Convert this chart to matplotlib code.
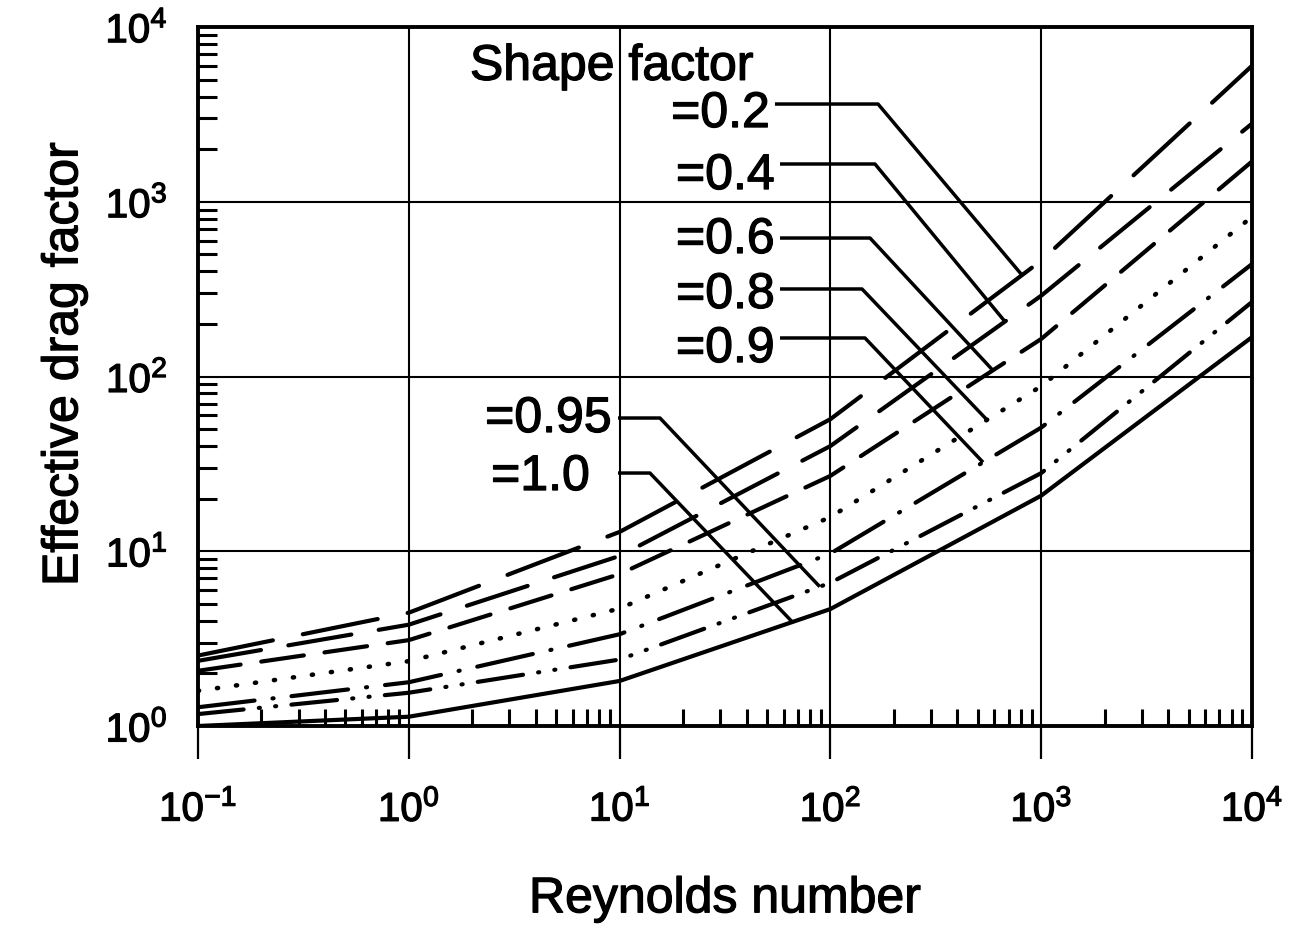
import numpy as np
import matplotlib
matplotlib.use("Agg")
import matplotlib.pyplot as plt
import matplotlib.patheffects as pe
from matplotlib.ticker import LogLocator, NullFormatter

# ---------------- data ----------------
reynolds = [0.1, 1, 10, 100, 1000, 10000]
shape_labels = ["=0.2", "=0.4", "=0.6", "=0.8", "=0.9", "=0.95", "=1.0"]
drag_02 = [2.53, 4.45, 12.9, 57, 460, 6000]
drag_04 = [2.36, 3.80, 9.4, 40, 290, 2800]
drag_06 = [2.07, 3.10, 7.4, 27, 164, 1700]
drag_08 = [1.59, 2.35, 4.7, 15.7, 88, 820]
drag_09 = [1.28, 1.78, 3.35, 9.7, 51, 440]
drag_095 = [1.17, 1.55, 2.40, 6.6, 28, 267]
drag_10 = [1.00, 1.13, 1.81, 4.67, 20.8, 168]
curves = [drag_02, drag_04, drag_06, drag_08, drag_09, drag_095, drag_10]
# Reynolds number where each leader line touches its curve
leader_target_re = [811, 673, 590, 553, 530, 89, 66]

# ---------------- style / layout ----------------
plt.rcParams["font.family"] = ["Liberation Sans", "DejaVu Sans"]
plt.rcParams["mathtext.default"] = "regular"
plt.rcParams["lines.scale_dashes"] = False

heavy = [pe.withStroke(linewidth=0.9, foreground="black")]

line_styles = [
    (0, (55, 22)),
    (0, (46, 20)),
    (0, (31, 15)),
    (0, (0.8, 13.0)),
    (0, (41, 13, 0.8, 13)),
    (0, (33, 11, 0.8, 11, 0.8, 11)),
    "-",
]
line_widths = [3.0, 3.0, 3.0, 3.3, 3.0, 3.0, 3.0]

# label layout in axes fraction: (text right x, text y, line start x, line y, knee x)
label_layout = [
    (0.5427, 0.8755, 0.5474, 0.8898, 0.6452),
    (0.5474, 0.7868, 0.5522, 0.8040, 0.6423),
    (0.5474, 0.6953, 0.5522, 0.6981, 0.6376),
    (0.5474, 0.6166, 0.5522, 0.6252, 0.6300),
    (0.5474, 0.5393, 0.5522, 0.5551, 0.6328),
    (0.3928, 0.4392, 0.3985, 0.4406, 0.4383),
    (0.3719, 0.3562, 0.3985, 0.3619, 0.4288),
]

W, H = 1291, 928
fig = plt.figure(figsize=(W / 100, H / 100), dpi=100)
fig.patch.set_facecolor("white")
ax = fig.add_axes([198 / W, 1 - 727 / H, 1054 / W, 699 / H])

for vals, ls, lw in zip(curves, line_styles, line_widths):
    ax.plot(reynolds, vals, color="black", linestyle=ls, linewidth=lw,
            dash_capstyle="round", solid_capstyle="round", zorder=3)

ax.set_xscale("log")
ax.set_yscale("log")
ax.set_xlim(0.1, 1e4)
ax.set_ylim(1, 1e4)

ax.xaxis.set_major_locator(LogLocator(base=10, numticks=12))
ax.xaxis.set_minor_locator(LogLocator(base=10, subs=np.arange(2, 10), numticks=12))
ax.yaxis.set_major_locator(LogLocator(base=10, numticks=12))
ax.yaxis.set_minor_locator(LogLocator(base=10, subs=np.arange(2, 10), numticks=12))
ax.xaxis.set_minor_formatter(NullFormatter())
ax.yaxis.set_minor_formatter(NullFormatter())

ax.tick_params(axis="x", which="major", direction="out", length=24, width=1.6,
               pad=22, labelsize=29, top=False)
ax.tick_params(axis="x", which="minor", direction="in", length=12, width=2.2,
               top=False)
ax.tick_params(axis="y", which="major", length=0, pad=22, labelsize=29,
               right=False)
ax.tick_params(axis="y", which="minor", direction="in", length=14, width=2.2,
               right=False)
ax.grid(True, which="major", color="black", linewidth=1.5, zorder=1)
for sp in ax.spines.values():
    sp.set_linewidth(2.8)

for lbl in ax.get_xticklabels() + ax.get_yticklabels():
    lbl.set_path_effects(heavy)

ax.set_xlabel("Reynolds number", fontsize=36, path_effects=heavy)
ax.xaxis.set_label_coords(0.5, -0.215)
ax.set_ylabel("Effective drag factor", fontsize=36, path_effects=heavy)
ax.yaxis.set_label_coords(-0.105, 0.518)

ax.text(0.258, 0.943, "Shape factor", transform=ax.transAxes, fontsize=36,
        ha="left", va="center", path_effects=heavy)

logx = np.log10(reynolds)
for lab, vals, tx, lay in zip(shape_labels, curves, leader_target_re, label_layout):
    tr_x, t_y, ls_x, l_y, knee_x = lay
    ax.text(tr_x, t_y, lab, transform=ax.transAxes, fontsize=36,
            ha="right", va="center", path_effects=heavy)
    ty_log = np.interp(np.log10(tx), logx, np.log10(vals))
    fx = (np.log10(tx) + 1) / 5
    fy = ty_log / 4
    ax.plot([ls_x, knee_x, fx], [l_y, l_y, fy], transform=ax.transAxes,
            color="black", linewidth=2.5, zorder=4, solid_capstyle="butt")

fig.savefig("out.png", dpi=100, facecolor="white")
